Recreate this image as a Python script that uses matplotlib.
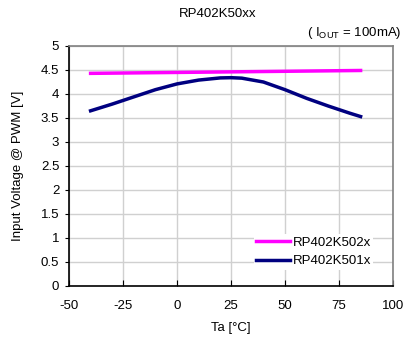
import matplotlib
matplotlib.use("Agg")
import matplotlib.pyplot as plt

plt.rcParams['font.family'] = ['Liberation Sans', 'DejaVu Sans']
plt.rcParams['axes.unicode_minus'] = False

ta_502 = [-40, 85]
vin_502 = [4.43, 4.49]
ta_501 = [-40, -30, -20, -10, 0, 10, 20, 25, 30, 40, 50, 60, 70, 80, 85]
vin_501 = [3.65, 3.79, 3.94, 4.09, 4.21, 4.29, 4.335, 4.34, 4.33, 4.25, 4.09, 3.91, 3.75, 3.60, 3.53]

xticks = [-50, -25, 0, 25, 50, 75, 100]
yticks = [0, 0.5, 1, 1.5, 2, 2.5, 3, 3.5, 4, 4.5, 5]

fig = plt.figure(figsize=(4.06, 3.37), dpi=100)
ax = fig.add_axes([69/406, 1 - 286/337, 324/406, 240/337])

ax.plot(ta_502, vin_502, color='#ff00ff', lw=2.5, label='RP402K502x')
ax.plot(ta_501, vin_501, color='#000080', lw=2.5, label='RP402K501x')

ax.set_xlim(-50, 100)
ax.set_ylim(0, 5)
ax.set_xticks(xticks)
ax.set_yticks(yticks)
ax.set_yticklabels([f'{v:g}' for v in yticks])
ax.grid(True, color='#d0d0d0', lw=1)
ax.set_axisbelow(True)
ax.tick_params(axis='x', direction='in', length=4, labelsize=9.5, pad=10)
ax.tick_params(axis='y', direction='out', length=3, labelsize=9.5, pad=4)
for s in ['top', 'right']:
    ax.spines[s].set_color('#808080')
    ax.spines[s].set_linewidth(1.2)
for s in ['left', 'bottom']:
    ax.spines[s].set_color('black')
    ax.spines[s].set_linewidth(1.2)

ax.set_xlabel('Ta [°C]', fontsize=9.5, labelpad=7)
ax.set_ylabel('Input Voltage @ PWM [V]', fontsize=9.5, labelpad=12)

leg = ax.legend(loc='lower right', bbox_to_anchor=(0.96, 0.04), frameon=True,
                fontsize=9.5, handlelength=2.6, handletextpad=0.15,
                borderpad=0.2, labelspacing=0.45, fancybox=False)
leg.get_frame().set_edgecolor('none')
leg.get_frame().set_facecolor('white')
leg.get_frame().set_alpha(1)

fig.text(218/406, 1 - 14/337, 'RP402K50xx', ha='center', va='center', fontsize=9.5)
fig.text(402/406, 1 - 33/337, r'( I$_{\mathregular{OUT}}$ = 100mA)', ha='right',
         va='center', fontsize=9.5)

fig.savefig('out.png', dpi=100)
